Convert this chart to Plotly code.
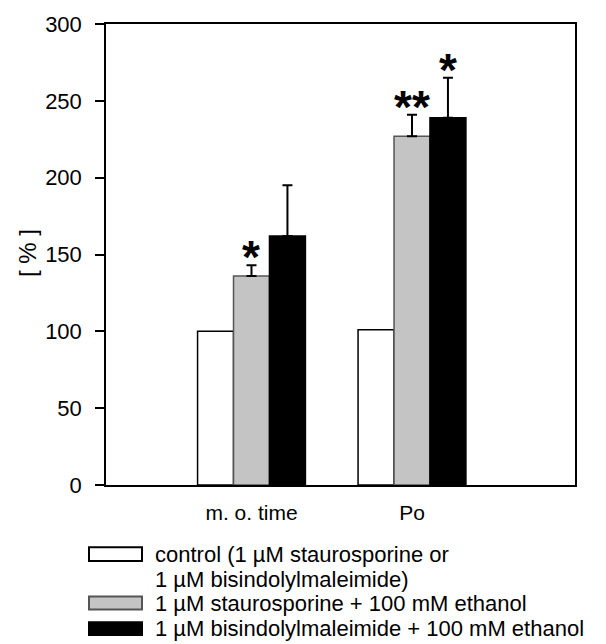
import plotly.graph_objects as go

categories = ["m. o. time", "Po"]
series_names = [
    "control (1 µM staurosporine or<br>1 µM bisindolylmaleimide)",
    "1 µM staurosporine + 100 mM ethanol",
    "1 µM bisindolylmaleimide + 100 mM ethanol",
]
control_vals = [100, 101]
control_err = [0, 0]
stauro_vals = [136, 227]
stauro_err = [7, 14]
bis_vals = [162, 239]
bis_err = [33, 26]
stauro_sig = ["*", "**"]
bis_sig = ["", "*"]
y_ticks = [0, 50, 100, 150, 200, 250, 300]

FONT = "Liberation Sans, Arial, sans-serif"
W, H = 606, 644
L, R, T, B = 106, 575, 18, 485

fills = ["#ffffff", "#c4c4c4", "#000000"]
lines = ["#000000", "#555555", "#000000"]
vals = [control_vals, stauro_vals, bis_vals]
errs = [control_err, stauro_err, bis_err]

fig = go.Figure()
for i in range(3):
    fig.add_trace(go.Bar(
        x=categories, y=vals[i], name=series_names[i],
        marker=dict(color=fills[i], line=dict(color=lines[i], width=1.5)),
        error_y=dict(type="data", symmetric=False, array=errs[i],
                     arrayminus=[0] * len(categories),
                     visible=any(e > 0 for e in errs[i]),
                     color="#000000", thickness=2, width=5),
        showlegend=False,
    ))

bar_w = 0.224
annotations = []
for j, cat in enumerate(categories):
    for k, (v, e, s) in enumerate([(stauro_vals[j], stauro_err[j], stauro_sig[j]),
                                   (bis_vals[j], bis_err[j], bis_sig[j])]):
        if s:
            annotations.append(dict(
                x=j + k * bar_w, y=v + e, xref="x", yref="y",
                text="<b>" + s + "</b>", showarrow=False,
                yanchor="bottom", xanchor="center", yshift=-20,
                font=dict(family=FONT, size=46, color="#000000"),
            ))

def px_x(p):
    return (p - L) / (R - L)

def px_y(p):
    return (B - p) / (B - T)

shapes = []
box_rows = [(548, 562), (598, 611), (624, 637)]
for i, (y0, y1) in enumerate(box_rows):
    shapes.append(dict(type="rect", xref="paper", yref="paper",
                       x0=px_x(89), x1=px_x(142), y0=px_y(y1), y1=px_y(y0),
                       fillcolor=fills[i], line=dict(color=lines[i], width=2)))

text_rows = [555, 581, 605, 630]
legend_lines = series_names[0].split("<br>") + series_names[1:]
for t, yy in zip(legend_lines, text_rows):
    annotations.append(dict(
        x=px_x(153), y=px_y(yy), xref="paper", yref="paper",
        text=t, showarrow=False, xanchor="left", yanchor="middle",
        font=dict(family=FONT, size=22, color="#000000"),
    ))

annotations.append(dict(
    x=px_x(27), y=px_y(250), xref="paper", yref="paper",
    text="[ % ]", textangle=-90, showarrow=False,
    xanchor="center", yanchor="middle",
    font=dict(family=FONT, size=24, color="#000000"),
))

fig.update_layout(
    width=W, height=H,
    margin=dict(l=L, r=W - R, t=T, b=H - B, pad=0),
    paper_bgcolor="white", plot_bgcolor="white",
    barmode="group", bargap=1 - 3 * bar_w, bargroupgap=0,
    annotations=annotations, shapes=shapes,
    font=dict(family=FONT, color="#000000"),
)
fig.update_xaxes(
    range=[-0.9065, 2.0156], tickvals=list(range(len(categories))),
    ticktext=categories, ticks="outside", ticklen=8,
    tickcolor="rgba(0,0,0,0)", tickfont=dict(family=FONT, size=21),
    showline=True, linecolor="#000000", linewidth=1.5, mirror=True,
    showgrid=False, zeroline=False,
)
fig.update_yaxes(
    range=[0, 300], tickvals=y_ticks, ticks="outside", ticklen=9,
    tickwidth=1.5, tickcolor="#000000", ticklabelstandoff=9,
    tickfont=dict(family=FONT, size=22),
    showline=True, linecolor="#000000", linewidth=1.5, mirror=True,
    showgrid=False, zeroline=False,
)

fig.write_html("out.html")
